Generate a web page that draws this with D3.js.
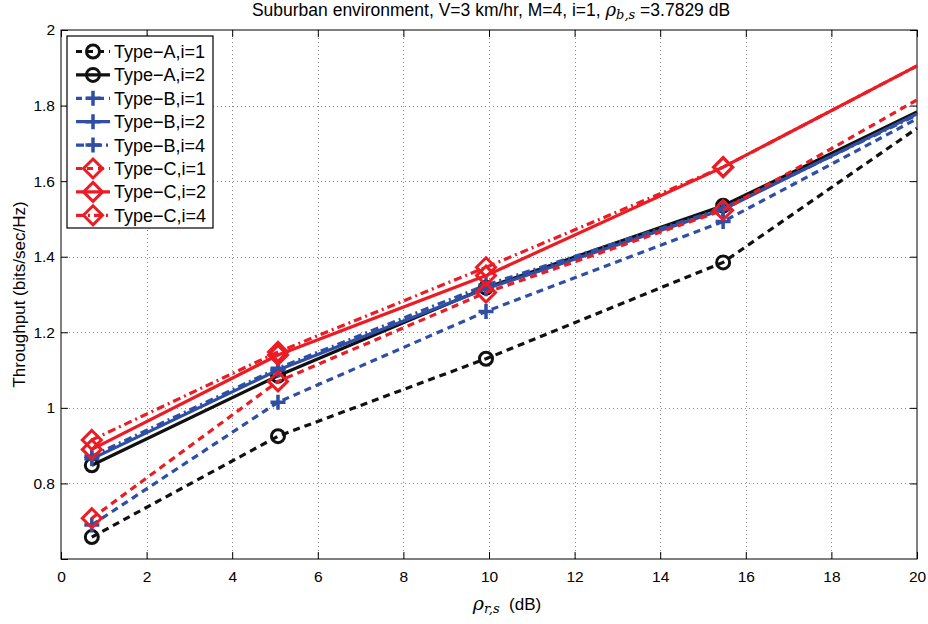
<!DOCTYPE html>
<html>
<head>
<meta charset="utf-8">
<script src="https://cdn.jsdelivr.net/npm/d3@7"></script>
<style>
  body { margin: 0; background: #fff; }
  svg { font-family: "Liberation Sans", Arial, sans-serif; }
</style>
</head>
<body>
<div id="chart"></div>
<script>
// x positions of the simulated points (rho_r,s in dB)
const xValues = [0.72, 5.07, 9.93, 15.47, 20];

const typeA1 = [0.658, 0.925, 1.13, 1.385, 1.74];
const typeA2 = [0.848, 1.085, 1.318, 1.535, 1.783];
const typeB1 = [0.69, 1.015, 1.255, 1.493, 1.765];
const typeB2 = [0.865, 1.1, 1.315, 1.525, 1.778];
const typeB4 = [0.872, 1.105, 1.325, 1.528, 1.775];
const typeC1 = [0.708, 1.07, 1.305, 1.523, 1.815];
const typeC2 = [0.89, 1.14, 1.35, 1.637, 1.905];
const typeC4 = [0.915, 1.148, 1.372, 1.637, 1.905];

const seriesNames = ['Type\u2212A,i=1', 'Type\u2212A,i=2', 'Type\u2212B,i=1', 'Type\u2212B,i=2',
  'Type\u2212B,i=4', 'Type\u2212C,i=1', 'Type\u2212C,i=2', 'Type\u2212C,i=4'];

const xTicks = [0, 2, 4, 6, 8, 10, 12, 14, 16, 18, 20];
const yTicks = [0.8, 1, 1.2, 1.4, 1.6, 1.8, 2];

const black = '#111', blue = '#2f4fa6', red = '#ec1c24';
const dashed = '7,5', dashdot = '8,4,2,4';

const series = [
  {name: seriesNames[0], values: typeA1, color: black, dash: dashed, marker: 'circle'},
  {name: seriesNames[1], values: typeA2, color: black, dash: null, marker: 'circle'},
  {name: seriesNames[2], values: typeB1, color: blue, dash: dashed, marker: 'plus'},
  {name: seriesNames[3], values: typeB2, color: blue, dash: null, marker: 'plus'},
  {name: seriesNames[4], values: typeB4, color: blue, dash: dashdot, marker: 'plus'},
  {name: seriesNames[5], values: typeC1, color: red, dash: dashed, marker: 'diamond'},
  {name: seriesNames[6], values: typeC2, color: red, dash: null, marker: 'diamond'},
  {name: seriesNames[7], values: typeC4, color: red, dash: dashdot, marker: 'diamond'}
];

const width = 928, height = 624;
const margin = {top: 30, right: 11, bottom: 65, left: 61};

const svg = d3.select('#chart').append('svg')
  .attr('width', width)
  .attr('height', height);

const x = d3.scaleLinear().domain([0, 20]).range([margin.left, width - margin.right]);
const y = d3.scaleLinear().domain([0.6, 2]).range([height - margin.bottom, margin.top]);

// grid
const grid = svg.append('g').attr('stroke', '#888').attr('stroke-width', 1).attr('stroke-dasharray', '1,3');
grid.selectAll('.gx').data(xTicks.slice(1, -1)).enter().append('line')
  .attr('x1', d => Math.round(x(d)) + 0.5).attr('x2', d => Math.round(x(d)) + 0.5)
  .attr('y1', y(0.6)).attr('y2', y(2));
grid.selectAll('.gy').data(yTicks.slice(0, -1)).enter().append('line')
  .attr('y1', d => Math.round(y(d)) + 0.5).attr('y2', d => Math.round(y(d)) + 0.5)
  .attr('x1', x(0)).attr('x2', x(20));

// axes, ticks pointing inward like matlab
const tickFont = g => g.selectAll('text').attr('font-size', 15.5).attr('fill', '#000')
  .attr('font-family', '"Liberation Sans", Arial, sans-serif');

svg.append('g')
  .attr('transform', 'translate(0,' + y(0.6) + ')')
  .call(d3.axisBottom(x).tickValues(xTicks).tickFormat(d3.format('d')).tickSizeInner(-7).tickSizeOuter(0).tickPadding(12))
  .call(tickFont)
  .call(g => g.select('.domain').remove());

svg.append('g')
  .attr('transform', 'translate(' + x(0) + ',0)')
  .call(d3.axisLeft(y).tickValues([0.6].concat(yTicks)).tickFormat(d => d === 0.6 ? '' : d3.format('~g')(d)).tickSizeInner(-7).tickSizeOuter(0).tickPadding(6))
  .call(tickFont)
  .call(g => g.select('.domain').remove());

svg.append('g')
  .attr('transform', 'translate(0,' + y(2) + ')')
  .call(d3.axisTop(x).tickValues(xTicks).tickFormat('').tickSizeInner(-7).tickSizeOuter(0))
  .call(g => g.select('.domain').remove());

svg.append('g')
  .attr('transform', 'translate(' + x(20) + ',0)')
  .call(d3.axisRight(y).tickValues(yTicks).tickFormat('').tickSizeInner(-7).tickSizeOuter(0))
  .call(g => g.select('.domain').remove());

svg.selectAll('.tick line').attr('stroke', '#000');

svg.append('rect')
  .attr('x', x(0)).attr('y', y(2))
  .attr('width', x(20) - x(0)).attr('height', y(0.6) - y(2))
  .attr('fill', 'none').attr('stroke', '#000').attr('stroke-width', 1);

// markers
const drawMarker = (g, type, color, cx, cy) => {
  if (type === 'circle') {
    g.append('circle').attr('cx', cx).attr('cy', cy).attr('r', 6.5)
      .attr('fill', 'none').attr('stroke', color).attr('stroke-width', 3);
  } else if (type === 'plus') {
    g.append('path').attr('d', `M${cx - 7.5},${cy}H${cx + 7.5}M${cx},${cy - 7.5}V${cy + 7.5}`)
      .attr('stroke', color).attr('stroke-width', 3.5).attr('fill', 'none');
  } else {
    g.append('path').attr('d', `M${cx},${cy - 9.5}L${cx + 9.5},${cy}L${cx},${cy + 9.5}L${cx - 9.5},${cy}Z`)
      .attr('stroke', color).attr('stroke-width', 3).attr('fill', 'none');
  }
};

const line = d3.line().x((d, i) => x(xValues[i])).y(d => y(d));

const plot = svg.append('g');
series.forEach(s => {
  plot.append('path')
    .datum(s.values)
    .attr('d', line)
    .attr('fill', 'none')
    .attr('stroke', s.color)
    .attr('stroke-width', 3.2)
    .attr('stroke-dasharray', s.dash);
  // the last point sits on the axis edge, matlab shows no marker there
  s.values.slice(0, -1).forEach((v, i) => {
    drawMarker(plot, s.marker, s.color, x(xValues[i]), y(v));
  });
});

// legend
const legend = svg.append('g').attr('transform', 'translate(67,36)');
legend.append('rect')
  .attr('width', 146).attr('height', 192)
  .attr('fill', '#fff').attr('stroke', '#000').attr('stroke-width', 1.2);

series.forEach((s, i) => {
  const ly = 15.5 + i * 23.4;
  const row = legend.append('g');
  row.append('line')
    .attr('x1', 9).attr('x2', 43).attr('y1', ly).attr('y2', ly)
    .attr('stroke', s.color).attr('stroke-width', 3.2)
    .attr('stroke-dasharray', s.dash ? (s.dash === dashed ? '6,5' : '8,4,2,4') : null);
  drawMarker(row, s.marker, s.color, 26, ly);
  row.append('text')
    .attr('x', 47).attr('y', ly + 6.5)
    .attr('font-size', 18)
    .text(s.name);
});

// title
const title = svg.append('text')
  .attr('x', 491).attr('y', 16)
  .attr('text-anchor', 'middle')
  .attr('font-size', 17.5);
title.append('tspan').text('Suburban environment, V=3 km/hr, M=4, i=1, ');
title.append('tspan').attr('font-family', '"DejaVu Serif", serif').attr('font-style', 'italic').attr('font-size', 18).text('\u03C1');
title.append('tspan').attr('font-family', '"DejaVu Serif", serif').attr('font-style', 'italic').attr('font-size', 13).attr('dy', 3).text('b,s');
title.append('tspan').attr('dy', -3).text(' =3.7829 dB');

// x label
const xLabel = svg.append('text')
  .attr('x', 507).attr('y', 610)
  .attr('text-anchor', 'middle')
  .attr('font-size', 17);
xLabel.append('tspan').attr('font-family', '"DejaVu Serif", serif').attr('font-style', 'italic').attr('font-size', 19).text('\u03C1');
xLabel.append('tspan').attr('font-family', '"DejaVu Serif", serif').attr('font-style', 'italic').attr('font-size', 13).attr('dy', 3).text('r,s');
xLabel.append('tspan').attr('dy', -3).text('\u00A0 (dB)');

// y label
svg.append('text')
  .attr('transform', 'translate(25,' + (y(1.3)) + ') rotate(-90)')
  .attr('text-anchor', 'middle')
  .attr('font-size', 17)
  .text('Throughput (bits/sec/Hz)');
</script>
</body>
</html>
